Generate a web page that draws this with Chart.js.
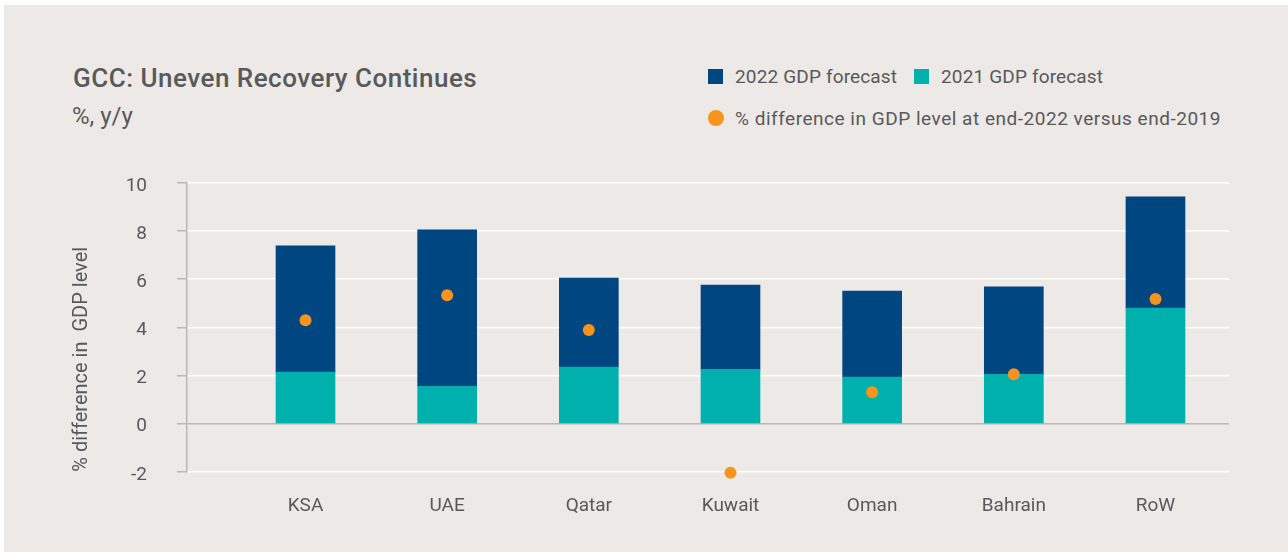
<!DOCTYPE html>
<html>
<head>
<meta charset="utf-8">
<script src="https://cdn.jsdelivr.net/npm/chart.js@4"></script>
<style>
html,body{margin:0;padding:0;background:#ffffff;width:1288px;height:552px;overflow:hidden;}
#bg{position:absolute;left:4px;top:5px;width:1284px;height:547px;background:#ece9e6;}
#wrap{position:absolute;left:0;top:0;width:1288px;height:552px;}
.t{position:absolute;font-family:Roboto,sans-serif;color:#58595b;white-space:nowrap;line-height:1;}
#title{left:73px;top:65px;font-size:26px;font-weight:500;letter-spacing:0.5px;}
#sub{left:72px;top:104px;font-size:24px;}
.sw{position:absolute;width:15px;height:15px;}
.dot{position:absolute;width:16px;height:16px;border-radius:50%;}
</style>
</head>
<body>
<div id="bg"></div>
<div class="t" id="title">GCC: Uneven Recovery Continues</div>
<div class="t" id="sub">%, y/y</div>
<div id="legend"></div>
<div id="wrap"><canvas id="c" width="1288" height="552"></canvas></div>
<script>
const categories = ['KSA', 'UAE', 'Qatar', 'Kuwait', 'Oman', 'Bahrain', 'RoW'];
const gdp2021 = [2.14, 1.55, 2.35, 2.26, 1.93, 2.05, 4.80];
const gdp2022 = [5.25, 6.50, 3.70, 3.50, 3.58, 3.63, 4.63];
const levelDiff = [4.30, 5.33, 3.89, -2.04, 1.30, 2.05, 5.18];
const yTicks = [-2, 0, 2, 4, 6, 8, 10];
const label2022 = '2022 GDP forecast';
const label2021 = '2021 GDP forecast';
const labelDiff = '% difference in GDP level at end-2022 versus end-2019';
const yTitle = '% difference in  GDP level';

const C_DARK = '#004680', C_TEAL = '#00b0ad', C_ORANGE = '#f7941d', C_TEXT = '#58595b';

// HTML legend
const legend = document.getElementById('legend');
function addItem(kind, color, text, left, centerY, spacing) {
  const m = document.createElement('div');
  if (kind === 'sq') { m.className = 'sw'; m.style.left = left + 'px'; m.style.top = (centerY - 7.5) + 'px'; }
  else { m.className = 'dot'; m.style.left = left + 'px'; m.style.top = (centerY - 8) + 'px'; }
  m.style.background = color;
  legend.appendChild(m);
  const t = document.createElement('div');
  t.className = 't';
  t.style.fontSize = '19px';
  t.style.letterSpacing = spacing + 'px';
  t.style.left = (left + 27) + 'px';
  t.style.top = (centerY - 9.3) + 'px';
  t.textContent = text;
  legend.appendChild(t);
}
addItem('sq', C_DARK, label2022, 708, 76, 0.15);
addItem('sq', C_TEAL, label2021, 914, 76, 0.15);
addItem('dot', C_ORANGE, labelDiff, 708, 118, 0.52);

const ctx = document.getElementById('c');
new Chart(ctx, {
  type: 'bar',
  data: {
    datasets: [
      {
        type: 'scatter', label: labelDiff, stack: 'dots', order: 0, clip: false,
        data: levelDiff.map((v, i) => ({x: i, y: v})),
        pointRadius: 6, pointHoverRadius: 6, pointBackgroundColor: C_ORANGE, pointBorderWidth: 0, backgroundColor: C_ORANGE
      },
      {
        label: label2021, stack: 'bars', order: 1,
        data: gdp2021.map((v, i) => ({x: i, y: v})),
        backgroundColor: C_TEAL, barThickness: 59, borderWidth: 0
      },
      {
        label: label2022, stack: 'bars', order: 2,
        data: gdp2022.map((v, i) => ({x: i, y: v})),
        backgroundColor: C_DARK, barThickness: 59, borderWidth: 0
      }
    ]
  },
  options: {
    responsive: false, animation: false, events: [],
    layout: {padding: {top: 183, right: 59, bottom: 0, left: 0}},
    plugins: {legend: {display: false}, tooltip: {enabled: false}},
    scales: {
      x: {
        type: 'linear', stacked: true, offset: false, min: -0.8365, max: 6.519,
        grid: {display: false, drawTicks: false}, border: {display: false},
        afterBuildTicks: s => { s.ticks = categories.map((c, i) => ({value: i})); },
        ticks: {callback: v => categories[v], color: C_TEXT, font: {family: 'Roboto', size: 19}, padding: 22.8, maxRotation: 0, autoSkip: false},
        afterFit: s => { s.height = 80.3; }
      },
      y: {
        stacked: true, min: -2, max: 10,
        afterBuildTicks: s => { s.ticks = yTicks.map(v => ({value: v})); },
        grid: {color: c => (c.tick && c.tick.value === 0) ? '#b9b9b9' : '#ffffff', lineWidth: 1.5, tickLength: 10, tickColor: '#b9b9b9', drawTicks: true},
        border: {display: true, color: '#b9b9b9', width: 1.5},
        ticks: {callback: v => ['', String(v)], color: C_TEXT, font: {family: 'Roboto', size: 19, lineHeight: 0.33}, padding: 30},
        title: {display: true, text: yTitle, align: 'start', color: C_TEXT, font: {family: 'Roboto', size: 20}, padding: {top: 70, bottom: 0}},
        afterFit: s => { s.width = 187; }
      }
    }
  }
});
</script>
</body>
</html>
